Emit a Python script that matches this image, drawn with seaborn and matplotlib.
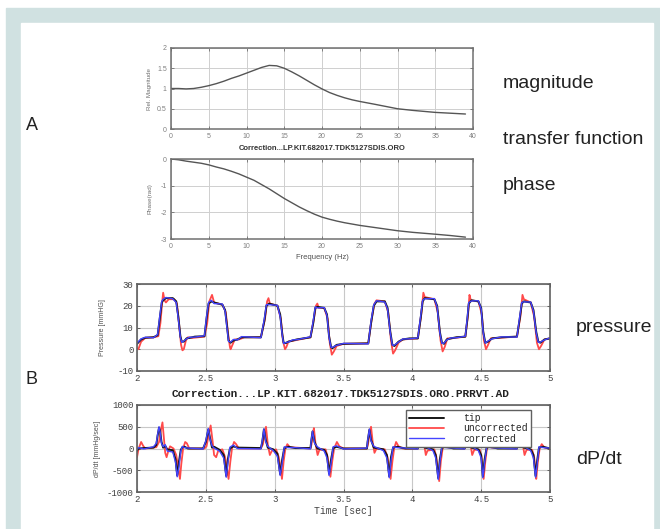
import numpy as np
import pandas as pd
import matplotlib
matplotlib.use("Agg")
import matplotlib.pyplot as plt
from matplotlib.patches import Rectangle
import seaborn as sns

# ---- transfer function (A) ----
freq = [0, 1, 2, 3, 4, 5, 6, 7, 8, 9, 10, 11, 12, 13, 14, 15, 16, 17, 18, 19, 20,
        21, 22, 23, 24, 25, 27, 30, 32, 35, 37, 39]
magnitude = [1.0, 1.0, 0.99, 1.0, 1.03, 1.07, 1.12, 1.18, 1.25, 1.31, 1.38, 1.45, 1.52, 1.57, 1.56,
             1.5, 1.41, 1.31, 1.2, 1.09, 0.99, 0.9, 0.83, 0.77, 0.72, 0.68, 0.61, 0.5, 0.46, 0.41, 0.39, 0.37]
phase = [0, -0.03, -0.08, -0.12, -0.16, -0.22, -0.3, -0.37, -0.46, -0.56, -0.68, -0.8, -0.96, -1.12,
         -1.3, -1.48, -1.64, -1.8, -1.94, -2.07, -2.18, -2.26, -2.33, -2.39, -2.44, -2.49, -2.57,
         -2.69, -2.75, -2.82, -2.87, -2.93]

# ---- pressure (B) ----
t_tip = [2.00, 2.03, 2.06, 2.12, 2.15, 2.165, 2.18, 2.19, 2.21, 2.26, 2.285, 2.30, 2.315, 2.325, 2.34, 2.36, 2.38, 2.42, 2.49,
         2.505, 2.52, 2.54, 2.56, 2.62, 2.64, 2.655, 2.665, 2.68, 2.70, 2.73, 2.76, 2.90,
         2.925, 2.94, 2.96, 3.02, 3.04, 3.055, 3.065, 3.08, 3.10, 3.13, 3.16, 3.26,
         3.28, 3.295, 3.31, 3.36, 3.38, 3.395, 3.41, 3.42, 3.45, 3.50, 3.68,
         3.70, 3.72, 3.74, 3.80, 3.82, 3.84, 3.855, 3.87, 3.90, 3.93, 3.98, 4.04,
         4.06, 4.075, 4.09, 4.16, 4.18, 4.20, 4.215, 4.23, 4.25, 4.28, 4.32, 4.385,
         4.40, 4.41, 4.43, 4.48, 4.50, 4.515, 4.53, 4.55, 4.58, 4.65, 4.76,
         4.78, 4.795, 4.81, 4.86, 4.88, 4.90, 4.915, 4.93, 4.96, 5.00]
p_tip = [2.5, 4.5, 5.3, 5.5, 6.5, 14, 21.5, 22.5, 23.5, 23.5, 22, 15, 6, 3.5, 3.5, 5, 5.2, 5.8, 6,
         14, 21, 22, 21.5, 20.5, 18, 10, 4, 3, 4, 4.5, 5.5, 5.5,
         13, 20, 21, 20, 16, 7, 3, 2.8, 3.5, 4, 4.5, 5.5,
         12, 19, 19.5, 19, 16, 6, 1, 0.5, 2, 2.5, 2.7,
         12, 20, 22, 22, 19, 8, 2, 1.5, 3.5, 4.5, 5, 5,
         14, 22, 23.5, 23, 20, 8, 3, 2.5, 4.5, 5, 5.5, 5.8,
         14, 21, 22.5, 22, 19, 8, 3, 3.5, 5, 5.5, 5.8,
         14, 21, 22, 21.5, 18, 8, 3.5, 3, 4.5, 5]
p_corr = [2.8, 4.8, 5.5, 5.3, 6.8, 15, 22, 23, 23.8, 23.2, 21.5, 14, 5.5, 3.2, 3.8, 4.8, 5.5, 5.6, 6.2,
          15, 21.5, 22.5, 21, 20.8, 17.5, 9, 3.6, 3.3, 4.5, 4.3, 5.8, 5.3,
          14, 20.5, 20.5, 20.2, 15, 6.5, 2.6, 3.1, 3.3, 4.3, 4.4, 5.7,
          13, 19.5, 19, 19.2, 15.5, 5.5, 0.8, 0.9, 1.8, 2.7, 2.5,
          13, 20.5, 22.3, 21.7, 18.5, 7.5, 1.8, 1.9, 3.3, 4.7, 4.8, 5.2,
          15, 22.5, 23.2, 23.3, 19.5, 7.5, 2.7, 2.8, 4.3, 5.2, 5.3, 6,
          15, 21.5, 22.2, 22.3, 18.5, 7.5, 2.8, 3.8, 4.8, 5.7, 5.6,
          15, 21.5, 21.8, 21.7, 17.5, 7.5, 3.2, 3.3, 4.3, 5.2]
t_unc = [2.00, 2.01, 2.03, 2.06, 2.12, 2.155, 2.17, 2.185, 2.19, 2.20, 2.21, 2.23, 2.27, 2.29, 2.305, 2.32, 2.33, 2.34, 2.355, 2.37, 2.40, 2.49,
         2.51, 2.525, 2.545, 2.56, 2.62, 2.645, 2.66, 2.675, 2.68, 2.69, 2.71, 2.74, 2.78, 2.90,
         2.93, 2.945, 2.955, 2.965, 3.02, 3.045, 3.06, 3.075, 3.085, 3.10, 3.14, 3.26,
         3.285, 3.30, 3.31, 3.32, 3.36, 3.385, 3.40, 3.415, 3.43, 3.45, 3.50, 3.68,
         3.705, 3.725, 3.74, 3.80, 3.825, 3.845, 3.86, 3.875, 3.90, 3.93, 4.04,
         4.065, 4.08, 4.09, 4.16, 4.185, 4.205, 4.22, 4.235, 4.255, 4.28, 4.385,
         4.405, 4.415, 4.425, 4.48, 4.505, 4.52, 4.535, 4.55, 4.57, 4.76,
         4.785, 4.80, 4.81, 4.86, 4.885, 4.905, 4.92, 4.935, 4.96, 5.00]
p_unc = [0.5, 0, 3.5, 5.2, 5.5, 6, 12, 23, 26, 22.5, 21.5, 23, 23, 21, 12, 2, -0.5, 0, 4, 5.5, 5.2, 5.8,
         12, 22, 25, 21.5, 20.5, 17, 8, 1, 0, 1.5, 4.5, 4.5, 5.5, 5.5,
         14, 22, 23.5, 21, 20, 14, 4, 0, 1, 3.5, 4, 5.5,
         14, 20, 21, 19, 19, 14, 3, -2.5, -1, 1.5, 2.5, 2.7,
         14, 21, 22.5, 22, 17, 4, -2, -0.5, 3, 4.5, 5,
         16, 26, 24, 23, 17, 4, -1, 1, 5, 5, 5.8,
         16, 25, 22.5, 22, 16, 4, 0, 2, 5, 5.8,
         15, 25, 23, 21.5, 15, 3, 0, 1.5, 4.5, 5]

# ---- dP/dt (B) ----
t_dtip = [2.000, 2.010, 2.050, 2.120, 2.140, 2.150, 2.160, 2.168, 2.178, 2.190, 2.205, 2.220, 2.260, 2.280, 2.292, 2.305, 2.318, 2.330, 2.345, 2.370, 2.480,
          2.500, 2.518, 2.530, 2.545, 2.560, 2.600, 2.630, 2.648, 2.660, 2.675, 2.700, 2.730, 2.900,
          2.910, 2.922, 2.935, 2.950, 2.990, 3.020, 3.040, 3.055, 3.070, 3.100, 3.150, 3.260,
          3.265, 3.275, 3.290, 3.310, 3.360, 3.380, 3.395, 3.410, 3.425, 3.450, 3.500, 3.670,
          3.675, 3.688, 3.700, 3.720, 3.790, 3.815, 3.832, 3.845, 3.860, 3.890, 3.950, 4.040,
          4.045, 4.058, 4.070, 4.090, 4.150, 4.170, 4.188, 4.200, 4.215, 4.245, 4.300, 4.380,
          4.385, 4.398, 4.410, 4.430, 4.480, 4.500, 4.512, 4.525, 4.540, 4.570, 4.620, 4.760,
          4.765, 4.778, 4.790, 4.810, 4.860, 4.880, 4.895, 4.908, 4.920, 4.950, 5.000]
d_tip = [-50, 0, 10, 20, 80, 300, 480, 400, 150, 20, 60, -20, -40, -250, -620, -300, -30, 30, 40, 0, 0,
         150, 440, 250, 20, 40, -30, -150, -630, -250, 0, 50, 20, 10,
         150, 440, 200, 20, -20, -120, -590, -250, 10, 40, 10, 10,
         150, 390, 150, 0, -30, -150, -580, -250, 10, 40, 0, 0,
         150, 430, 200, 20, -20, -150, -640, -200, 20, 40, 0, 0,
         150, 480, 200, 20, -20, -150, -680, -250, 20, 40, 0, 0,
         150, 460, 200, 20, -20, -150, -640, -250, 20, 40, 0, 0,
         150, 470, 200, 20, -20, -150, -630, -250, 20, 40, 0]
d_corr = [-30, 20, -10, 40, 120, 330, 500, 380, 120, 40, 90, -60, -80, -320, -650, -420, -60, 50, 20, 10, -10,
          180, 460, 220, 60, 10, -60, -220, -660, -330, 30, 80, 0, -10,
          180, 450, 160, 50, -50, -180, -620, -320, 40, 20, 20, -10,
          170, 400, 120, 40, -60, -220, -620, -330, 40, 60, -10, 10,
          170, 450, 170, 50, -50, -220, -670, -280, 40, 20, 10, -10,
          170, 500, 170, 50, -50, -220, -710, -320, 40, 20, 10, -10,
          170, 480, 170, 50, -50, -220, -670, -320, 40, 20, 10, -10,
          170, 490, 170, 50, -50, -220, -660, -320, 40, 20, 10]
t_dunc = [2.000, 2.012, 2.030, 2.045, 2.060, 2.140, 2.160, 2.175, 2.185, 2.195, 2.205, 2.215, 2.228, 2.240, 2.265, 2.285, 2.300, 2.312, 2.322, 2.335, 2.350, 2.362, 2.380, 2.490,
          2.505, 2.520, 2.535, 2.548, 2.560, 2.575, 2.590, 2.620, 2.640, 2.655, 2.665, 2.678, 2.690, 2.705, 2.720, 2.740, 2.900,
          2.915, 2.928, 2.937, 2.950, 2.965, 2.980, 3.010, 3.030, 3.045, 3.053, 3.065, 3.078, 3.092, 3.110, 3.260,
          3.268, 3.278, 3.285, 3.297, 3.312, 3.325, 3.370, 3.385, 3.398, 3.405, 3.418, 3.432, 3.452, 3.470, 3.500, 3.670,
          3.678, 3.690, 3.700, 3.712, 3.725, 3.740, 3.800, 3.820, 3.835, 3.842, 3.855, 3.868, 3.882, 3.900, 3.930, 4.040,
          4.050, 4.062, 4.073, 4.085, 4.098, 4.110, 4.160, 4.175, 4.188, 4.195, 4.207, 4.220, 4.235, 4.255, 4.380,
          4.390, 4.402, 4.410, 4.422, 4.435, 4.450, 4.490, 4.503, 4.512, 4.518, 4.530, 4.542, 4.556, 4.575, 4.760,
          4.770, 4.782, 4.790, 4.802, 4.815, 4.830, 4.870, 4.885, 4.895, 4.900, 4.912, 4.925, 4.940, 4.960, 5.000]
d_unc = [-200, 0, 150, 60, 0, 30, 150, 450, 600, 250, -100, -200, -50, 50, 0, -150, -450, -700, -350, 0, 150, 120, 0, 0,
         50, 300, 530, 200, -150, -200, -50, -20, -200, -500, -700, -300, 0, 150, 100, 0, 0,
         100, 350, 500, 100, -150, -50, -20, -200, -500, -700, -300, 0, 100, 30, 0,
         100, 350, 470, 100, -150, -30, -20, -200, -500, -650, -300, 0, 150, 50, 0, 0,
         100, 350, 500, 150, -100, 0, -20, -200, -500, -700, -300, 0, 150, 50, 0, 0,
         150, 400, 550, 100, -150, -50, -20, -200, -550, -750, -300, 0, 100, 30, 0,
         150, 400, 550, 100, -150, -30, -30, -200, -500, -700, -300, 0, 100, 20, 0,
         150, 400, 550, 100, -150, -30, -30, -200, -500, -700, -300, 0, 100, 20, 0]

RED = "#ff4a4a"
BLUE = "#4444ff"
BLACK = "#151515"
MONO = "Liberation Mono"

sns.set_theme(style="white")
plt.rcParams["font.family"] = ["Liberation Sans", "DejaVu Sans"]
plt.rcParams["axes.unicode_minus"] = False

fig = plt.figure(figsize=(6.6, 5.29), dpi=100)
W, H = 660.0, 529.0

# teal frame with white panel
fig.patches.append(Rectangle((6 / W, 0), 1 - 6 / W, 1 - 8 / H, transform=fig.transFigure,
                             color="#d0e1e1", zorder=-10))
fig.patches.append(Rectangle((21 / W, 0), (653 - 21) / W, 1 - 23 / H, transform=fig.transFigure,
                             color="white", zorder=-9))


def box(l, t, r, b):
    return [l / W, 1 - b / H, (r - l) / W, (b - t) / H]


def style_top(ax):
    ax.set_xlim(0, 40)
    ax.set_xticks(range(0, 41, 5))
    ax.grid(True, color="#cfcfcf", lw=0.7)
    for s in ax.spines.values():
        s.set_color("#707070")
        s.set_linewidth(1.1)
    ax.tick_params(direction="in", length=2, width=0.6, colors="#707070",
                   labelsize=5, labelcolor="#808080", pad=3, top=True, right=True,
                   bottom=True, left=True)


ax1 = fig.add_axes(box(171, 48, 473, 129))
sns.lineplot(x=freq, y=magnitude, ax=ax1, color="#555555", lw=1.0, estimator=None)
style_top(ax1)
ax1.set_ylim(0, 2)
ax1.set_yticks([0, 0.5, 1, 1.5, 2])
ax1.set_yticklabels(["0", "0.5", "1", "1.5", "2"])
ax1.set_ylabel("Rel. Magnitude", fontsize=4.5, color="#707070", labelpad=4)

ax2 = fig.add_axes(box(171, 159, 473, 239))
sns.lineplot(x=freq, y=phase, ax=ax2, color="#555555", lw=1.0, estimator=None)
style_top(ax2)
ax2.set_ylim(-3, 0)
ax2.set_yticks([-3, -2, -1, 0])
ax2.set_ylabel("Phase(rad)", fontsize=4.5, color="#707070", labelpad=6)
ax2.set_xlabel("Frequency (Hz)", fontsize=5.5, color="#505050", labelpad=3)

fig.text(322 / W, 1 - 148 / H, "Correction...LP.KIT.682017.TDK5127SDIS.ORO",
         ha="center", va="center", fontsize=5.5, fontweight="bold", color="#333333")


def style_bottom(ax):
    ax.set_xlim(2, 5)
    ax.set_xticks([2, 2.5, 3, 3.5, 4, 4.5, 5])
    ax.set_xticklabels(["2", "2.5", "3", "3.5", "4", "4.5", "5"])
    ax.grid(True, color="#c8c8c8", lw=0.8)
    for s in ax.spines.values():
        s.set_color("#606060")
        s.set_linewidth(1.2)
    ax.tick_params(direction="in", length=2.5, width=0.7, colors="#606060",
                   labelsize=6.5, labelcolor="#404040", pad=2.5, top=True, right=True,
                   bottom=True, left=True)
    for lab in ax.get_xticklabels() + ax.get_yticklabels():
        lab.set_family(MONO)


ax3 = fig.add_axes(box(137, 284, 550, 371))
sns.lineplot(x=t_unc, y=p_unc, ax=ax3, color=RED, lw=1.3, estimator=None)
sns.lineplot(x=t_tip, y=p_tip, ax=ax3, color=BLACK, lw=1.4, estimator=None)
sns.lineplot(x=t_tip, y=p_corr, ax=ax3, color=BLUE, lw=1.0, estimator=None)
ax3.set_ylim(-10, 30)
ax3.set_yticks([-10, 0, 10, 20, 30])
style_bottom(ax3)
ax3.set_ylabel("Pressure [mmHG]", fontsize=5, color="#505050", labelpad=8)

fig.text(341 / W, 1 - 394 / H, "Correction...LP.KIT.682017.TDK5127SDIS.ORO.PRRVT.AD",
         ha="center", va="center", fontsize=8, fontweight="bold", color="#222222", family=MONO)

ax4 = fig.add_axes(box(137, 405, 550, 492))
sns.lineplot(x=t_dunc, y=d_unc, ax=ax4, color=RED, lw=1.3, estimator=None, label="uncorrected")
sns.lineplot(x=t_dtip, y=d_tip, ax=ax4, color=BLACK, lw=1.4, estimator=None, label="tip")
sns.lineplot(x=t_dtip, y=d_corr, ax=ax4, color=BLUE, lw=1.0, estimator=None, label="corrected")
ax4.set_ylim(-1000, 1000)
ax4.set_yticks([-1000, -500, 0, 500, 1000])
style_bottom(ax4)
ax4.set_ylabel("dP/dt [mmHg/sec]", fontsize=5, color="#505050", labelpad=4)
ax4.set_xlabel("Time [sec]", fontsize=7, color="#404040", family=MONO, labelpad=1)

handles, labels = ax4.get_legend_handles_labels()
order = [1, 0, 2]
leg = ax4.legend([handles[i] for i in order], [labels[i] for i in order],
                 loc="upper left", bbox_to_anchor=((406 - 137) / 413, 1 - 5 / 87),
                 prop={"family": MONO, "size": 7}, frameon=True, fancybox=False,
                 handlelength=3.6, handletextpad=2.0, borderpad=0.3, labelspacing=0.05,
                 borderaxespad=0)
leg.get_frame().set_edgecolor("#606060")
leg.get_frame().set_linewidth(1.0)
leg.get_frame().set_alpha(1)

# side annotations
for txt, x, y in [("magnitude", 503, 84), ("transfer function", 503, 140), ("phase", 503, 186),
                  ("pressure", 576, 327), ("dP/dt", 576, 459)]:
    fig.text(x / W, 1 - y / H, txt, ha="left", va="center", fontsize=14, color="#222222")
fig.text(26 / W, 1 - 126 / H, "A", ha="left", va="center", fontsize=13, color="#222222")
fig.text(26 / W, 1 - 379 / H, "B", ha="left", va="center", fontsize=13, color="#222222")

fig.savefig("out.png", dpi=100)
plt.close(fig)
